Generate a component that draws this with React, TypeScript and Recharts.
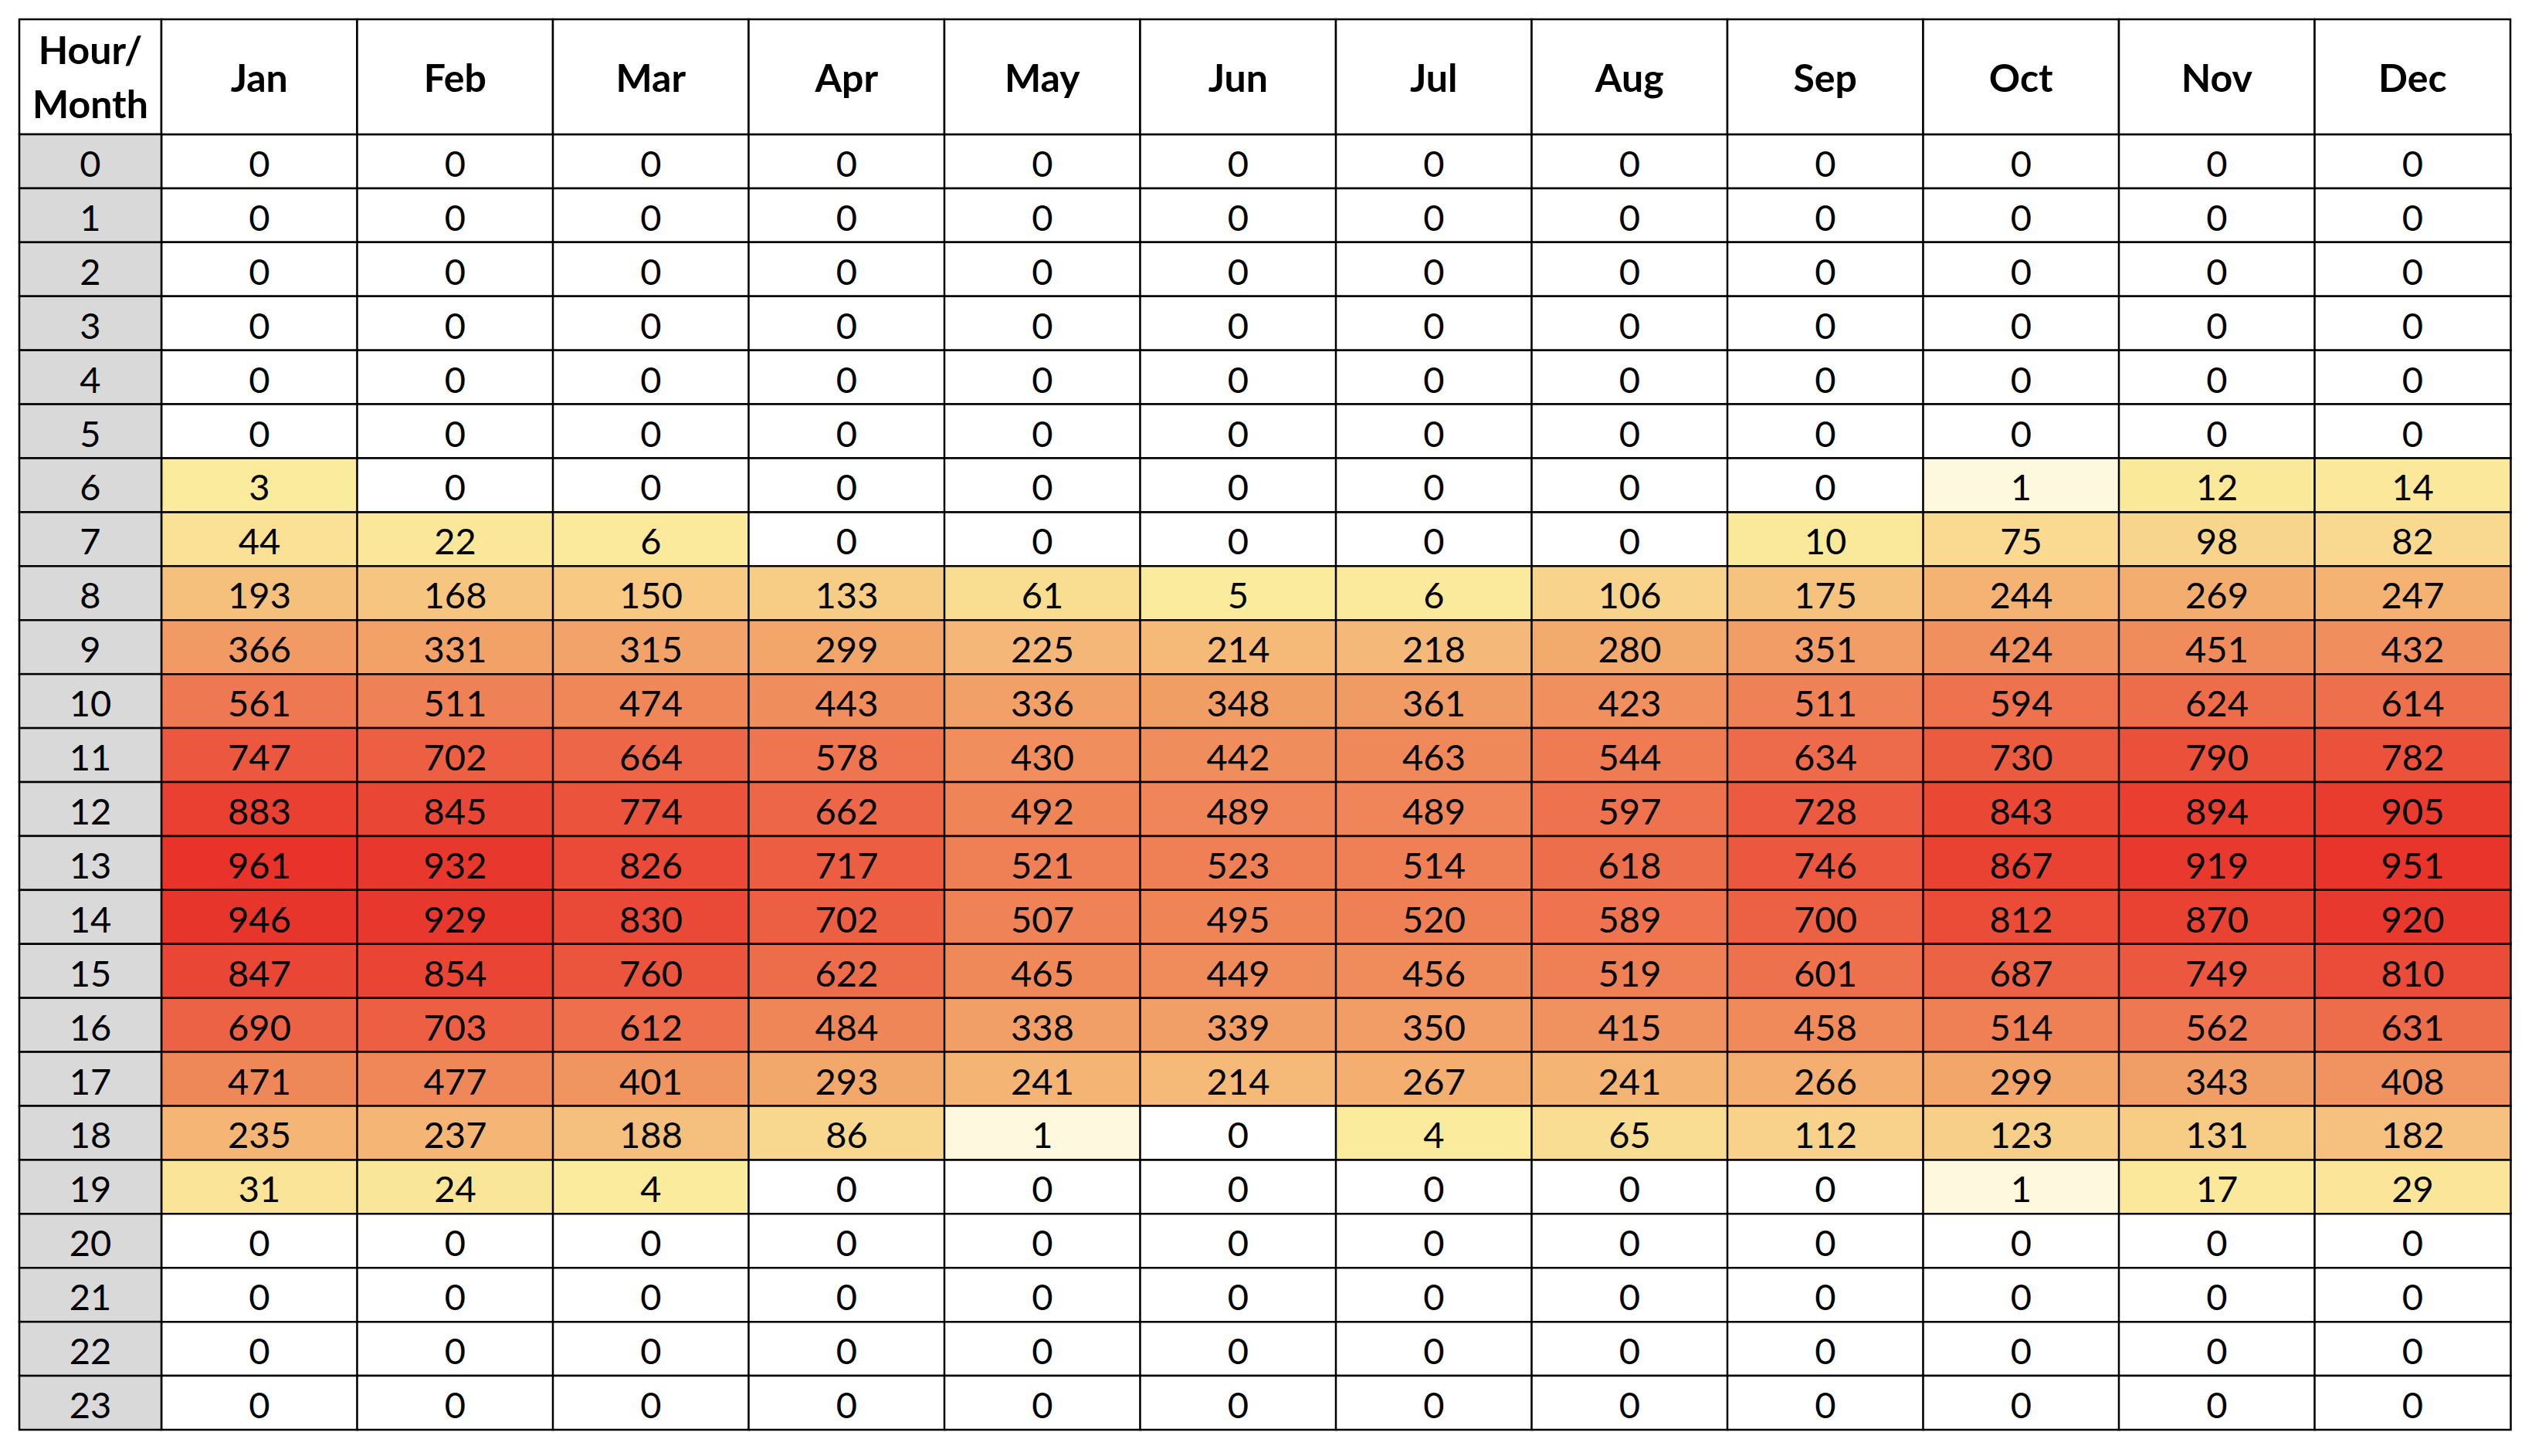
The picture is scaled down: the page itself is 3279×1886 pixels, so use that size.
import React from "react";
import { BarChart, Bar, XAxis, YAxis, Cell, LabelList } from "recharts";

const months = ["Jan", "Feb", "Mar", "Apr", "May", "Jun", "Jul", "Aug", "Sep", "Oct", "Nov", "Dec"];
const hours = [0, 1, 2, 3, 4, 5, 6, 7, 8, 9, 10, 11, 12, 13, 14, 15, 16, 17, 18, 19, 20, 21, 22, 23];

// hourly values per month (hour 0..23)
const jan = [0, 0, 0, 0, 0, 0, 3, 44, 193, 366, 561, 747, 883, 961, 946, 847, 690, 471, 235, 31, 0, 0, 0, 0];
const feb = [0, 0, 0, 0, 0, 0, 0, 22, 168, 331, 511, 702, 845, 932, 929, 854, 703, 477, 237, 24, 0, 0, 0, 0];
const mar = [0, 0, 0, 0, 0, 0, 0, 6, 150, 315, 474, 664, 774, 826, 830, 760, 612, 401, 188, 4, 0, 0, 0, 0];
const apr = [0, 0, 0, 0, 0, 0, 0, 0, 133, 299, 443, 578, 662, 717, 702, 622, 484, 293, 86, 0, 0, 0, 0, 0];
const may = [0, 0, 0, 0, 0, 0, 0, 0, 61, 225, 336, 430, 492, 521, 507, 465, 338, 241, 1, 0, 0, 0, 0, 0];
const jun = [0, 0, 0, 0, 0, 0, 0, 0, 5, 214, 348, 442, 489, 523, 495, 449, 339, 214, 0, 0, 0, 0, 0, 0];
const jul = [0, 0, 0, 0, 0, 0, 0, 0, 6, 218, 361, 463, 489, 514, 520, 456, 350, 267, 4, 0, 0, 0, 0, 0];
const aug = [0, 0, 0, 0, 0, 0, 0, 0, 106, 280, 423, 544, 597, 618, 589, 519, 415, 241, 65, 0, 0, 0, 0, 0];
const sep = [0, 0, 0, 0, 0, 0, 0, 10, 175, 351, 511, 634, 728, 746, 700, 601, 458, 266, 112, 0, 0, 0, 0, 0];
const oct = [0, 0, 0, 0, 0, 0, 1, 75, 244, 424, 594, 730, 843, 867, 812, 687, 514, 299, 123, 1, 0, 0, 0, 0];
const nov = [0, 0, 0, 0, 0, 0, 12, 98, 269, 451, 624, 790, 894, 919, 870, 749, 562, 343, 131, 17, 0, 0, 0, 0];
const dec = [0, 0, 0, 0, 0, 0, 14, 82, 247, 432, 614, 782, 905, 951, 920, 810, 631, 408, 182, 29, 0, 0, 0, 0];

const monthValues = [jan, feb, mar, apr, may, jun, jul, aug, sep, oct, nov, dec];

const FONT = "Lato, 'Open Sans', sans-serif";
const CORNER_W = 184;

// excel-like colour scale: white -> yellow -> orange -> red
const stops: [number, number[]][] = [
  [0, [255, 255, 255]],
  [3, [251, 235, 156]],
  [300, [242, 166, 106]],
  [961, [232, 50, 42]],
];

function heatColor(v: number) {
  if (v <= 0) return "#ffffff";
  for (let i = 1; i < stops.length; i++) {
    const [v1, c1] = stops[i];
    const [v0, c0] = stops[i - 1];
    if (v <= v1 || i === stops.length - 1) {
      const t = Math.min(1, (v - v0) / (v1 - v0));
      const c = c0.map((a, k) => Math.round(a + (c1[k] - a) * t));
      return `rgb(${c[0]},${c[1]},${c[2]})`;
    }
  }
  return "#ffffff";
}

const data = months.map((m, mi) => {
  const row: Record<string, string | number> = { month: m };
  hours.forEach((h) => {
    row[`u${h}`] = 1;
    row[`v${h}`] = monthValues[mi][h];
  });
  return row;
});

const MonthTick = (props: any) => {
  const { x, y, payload, index, height, width } = props;
  const w = payload.offset ? payload.offset * 2 : width / months.length;
  const h = height;
  return (
    <g>
      {index === 0 && (
        <g>
          <rect x={x - w / 2 - CORNER_W} y={y - h} width={CORNER_W} height={h} fill="#fff" stroke="#000" strokeWidth={2.5} />
          <text x={x - w / 2 - CORNER_W / 2} y={y - h + 58} textAnchor="middle" fontFamily={FONT} fontWeight={700} fontSize={50} fill="#000">
            Hour/
          </text>
          <text x={x - w / 2 - CORNER_W / 2} y={y - h + 128} textAnchor="middle" fontFamily={FONT} fontWeight={700} fontSize={50} fill="#000">
            Month
          </text>
        </g>
      )}
      <rect x={x - w / 2} y={y - h} width={w} height={h} fill="#fff" stroke="#000" strokeWidth={2.5} />
      <text x={x} y={y - h / 2 + 19} textAnchor="middle" fontFamily={FONT} fontWeight={700} fontSize={50} fill="#000">
        {payload.value}
      </text>
    </g>
  );
};

const HourTick = (props: any) => {
  const { x, y, payload, width, height } = props;
  const rh = height / hours.length;
  return (
    <g>
      <rect x={x - width} y={y - rh / 2} width={width} height={rh} fill="#d9d9d9" stroke="#000" strokeWidth={2.5} />
      <text x={x - width / 2} y={y + 20} textAnchor="middle" fontFamily={FONT} fontSize={47} fill="#000">
        {Math.floor(payload.value)}
      </text>
    </g>
  );
};

const CellLabel = (props: any) => {
  const { x, y, width, height, value } = props;
  return (
    <text x={x + width / 2} y={y + height / 2 + 20} textAnchor="middle" fontFamily={FONT} fontSize={47} fill="#000">
      {value}
    </text>
  );
};

export default function App() {
  return (
    <BarChart
      width={3263}
      height={1870}
      data={data}
      margin={{ top: 17, left: 17, right: 20, bottom: 26 }}
      barCategoryGap={0}
      barGap={0}
    >
      <XAxis
        dataKey="month"
        type="category"
        orientation="top"
        height={149}
        interval={0}
        axisLine={false}
        tickLine={false}
        tickSize={0}
        tickMargin={0}
        tick={<MonthTick />}
      />
      <YAxis
        type="number"
        domain={[0, 24]}
        reversed
        width={CORNER_W}
        ticks={hours.map((h) => h + 0.5)}
        interval={0}
        axisLine={false}
        tickLine={false}
        tickSize={0}
        tickMargin={0}
        tick={<HourTick />}
      />
      {hours.map((h) => (
        <Bar
          key={h}
          dataKey={`u${h}`}
          stackId="grid"
          stroke="#000"
          strokeWidth={2.5}
          isAnimationActive={false}
        >
          {data.map((d, i) => (
            <Cell key={i} fill={heatColor(d[`v${h}`] as number)} />
          ))}
          <LabelList dataKey={`v${h}`} content={<CellLabel />} />
        </Bar>
      ))}
    </BarChart>
  );
}
